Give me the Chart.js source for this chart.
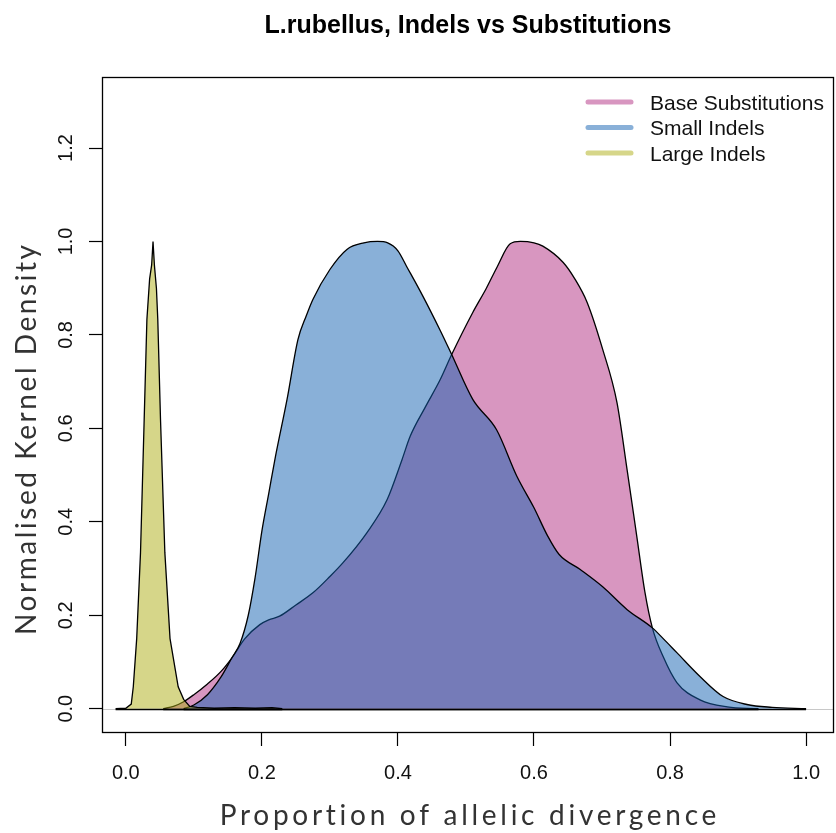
<!DOCTYPE html>
<html>
<head>
<meta charset="utf-8">
<script src="https://cdn.jsdelivr.net/npm/chart.js"></script>
<style>
  html, body { margin: 0; padding: 0; background: #fff; }
  canvas { display: block; }
</style>
</head>
<body>
<canvas id="chart" width="836" height="833"></canvas>
<script>
const title = 'L.rubellus, Indels vs Substitutions'
const xTitle = 'Proportion of allelic divergence'
const yTitle = 'Normalised Kernel Density'
const seriesNames = ['Base Substitutions', 'Small Indels', 'Large Indels']

const xTicks = [0, 0.2, 0.4, 0.6, 0.8, 1.0]
const xTickLabels = ['0.0', '0.2', '0.4', '0.6', '0.8', '1.0']
const yTicks = [0, 0.2, 0.4, 0.6, 0.8, 1.0, 1.2]
const yTickLabels = ['0.0', '0.2', '0.4', '0.6', '0.8', '1.0', '1.2']

// Base Substitutions (pink)
const subsX = [0.055, 0.07, 0.085, 0.10, 0.12, 0.14, 0.156, 0.175, 0.197, 0.21, 0.226, 0.25, 0.275, 0.30, 0.319, 0.354, 0.384, 0.406, 0.418, 0.44, 0.462, 0.479, 0.51, 0.53, 0.546, 0.565, 0.58, 0.60, 0.613, 0.643, 0.66, 0.678, 0.701, 0.722, 0.737, 0.751, 0.763, 0.774, 0.79, 0.81, 0.844, 0.884, 0.93]
const subsY = [0, 0.005, 0.015, 0.03, 0.053, 0.08, 0.109, 0.15, 0.18, 0.19, 0.198, 0.222, 0.248, 0.283, 0.312, 0.376, 0.447, 0.533, 0.583, 0.645, 0.704, 0.758, 0.848, 0.90, 0.946, 0.995, 1.0, 0.997, 0.99, 0.955, 0.92, 0.87, 0.769, 0.655, 0.51, 0.37, 0.25, 0.173, 0.111, 0.056, 0.019, 0.004, 0]

// Small Indels (blue)
const smallX = [0.085, 0.10, 0.12, 0.14, 0.156, 0.168, 0.18, 0.19, 0.20, 0.21, 0.22, 0.237, 0.253, 0.265, 0.275, 0.30, 0.325, 0.35, 0.37, 0.385, 0.40, 0.413, 0.437, 0.462, 0.479, 0.51, 0.545, 0.575, 0.60, 0.62, 0.637, 0.668, 0.701, 0.737, 0.774, 0.79, 0.81, 0.844, 0.878, 0.913, 0.95, 1.0]
const smallY = [0, 0.008, 0.03, 0.068, 0.109, 0.14, 0.2, 0.28, 0.38, 0.46, 0.54, 0.662, 0.79, 0.84, 0.876, 0.94, 0.983, 0.997, 1.0, 0.997, 0.98, 0.946, 0.882, 0.81, 0.758, 0.662, 0.597, 0.497, 0.43, 0.37, 0.33, 0.298, 0.261, 0.212, 0.173, 0.15, 0.12, 0.069, 0.026, 0.009, 0.003, 0]

// Large Indels (yellow)
const largeX = [-0.015, 0.0, 0.008, 0.011, 0.016, 0.0216, 0.027, 0.031, 0.035, 0.038, 0.04, 0.042, 0.045, 0.047, 0.051, 0.0574, 0.065, 0.077, 0.085, 0.094, 0.105, 0.13, 0.16, 0.19, 0.215, 0.23]
const largeY = [0, 0.001, 0.01, 0.047, 0.15, 0.334, 0.619, 0.833, 0.92, 0.95, 1.0, 0.95, 0.9, 0.833, 0.619, 0.334, 0.15, 0.047, 0.02, 0.005, 0.003, 0.001, 0.002, 0.001, 0.002, 0]

const fills = ['rgba(177,45,129,0.5)', 'rgba(19,97,177,0.5)', 'rgba(173,173,20,0.5)']

const toPoints = (xs, ys) => xs.map((x, i) => ({ x: x, y: ys[i] }))

// draw text spread out to a given width (the original axis titles are wide)
function spreadText (ctx, text, x, y, width) {
  ctx.letterSpacing = '0px'
  const w = ctx.measureText(text).width
  const gap = Math.max(0, (width - w) / (text.length - 1))
  ctx.letterSpacing = gap + 'px'
  ctx.textAlign = 'left'
  const w2 = ctx.measureText(text).width - gap
  ctx.fillText(text, x - w2 / 2, y)
  ctx.letterSpacing = '0px'
  ctx.textAlign = 'center'
}

const decor = {
  id: 'decor',
  beforeDatasetsDraw (chart) {
    const { ctx, chartArea: a, scales: { y } } = chart
    const py = Math.round(y.getPixelForValue(0)) + 0.5
    ctx.save()
    ctx.strokeStyle = '#c8c8c8'
    ctx.lineWidth = 1.2
    ctx.beginPath()
    ctx.moveTo(a.left, py)
    ctx.lineTo(a.right, py)
    ctx.stroke()
    ctx.restore()
  },
  afterDatasetsDraw (chart) {
    const { ctx, scales: { x, y } } = chart
    const py = Math.round(y.getPixelForValue(0)) + 0.5
    ctx.save()
    ctx.strokeStyle = '#000'
    ctx.lineWidth = 1.3
    chart.data.datasets.forEach(ds => {
      const pts = ds.data
      ctx.beginPath()
      ctx.moveTo(x.getPixelForValue(pts[0].x), py)
      ctx.lineTo(x.getPixelForValue(pts[pts.length - 1].x), py)
      ctx.stroke()
    })
    ctx.restore()
  },
  afterDraw (chart) {
    const { ctx, chartArea: a, scales: { x, y } } = chart
    ctx.save()
    // box
    ctx.strokeStyle = '#000'
    ctx.lineWidth = 1.3
    ctx.strokeRect(a.left + 0.5, a.top + 0.5, a.right - a.left - 1, a.bottom - a.top - 1)

    // title
    ctx.fillStyle = '#000'
    ctx.font = 'bold 25px "Liberation Sans", Arial, sans-serif'
    ctx.textAlign = 'center'
    ctx.textBaseline = 'alphabetic'
    ctx.fillText(title, (a.left + a.right) / 2, 33)

    // x tick labels
    ctx.font = '20px "Liberation Sans", Arial, sans-serif'
    ctx.fillStyle = '#111'
    xTicks.forEach((v, i) => {
      ctx.fillText(xTickLabels[i], x.getPixelForValue(v), 779)
    })
    // y tick labels (rotated)
    yTicks.forEach((v, i) => {
      ctx.save()
      ctx.translate(72, y.getPixelForValue(v))
      ctx.rotate(-Math.PI / 2)
      ctx.fillText(yTickLabels[i], 0, 0)
      ctx.restore()
    })

    // axis titles
    ctx.font = '28px Lato, "Open Sans", sans-serif'
    ctx.fillStyle = '#333'
    spreadText(ctx, xTitle, (a.left + a.right) / 2, 825, 497)
    ctx.save()
    ctx.translate(36, 440)
    ctx.rotate(-Math.PI / 2)
    spreadText(ctx, yTitle, 0, 0, 390)
    ctx.restore()

    // legend
    ctx.font = '21px "Liberation Sans", Arial, sans-serif'
    ctx.textAlign = 'left'
    ctx.lineCap = 'round'
    ctx.lineWidth = 5
    chart.data.datasets.forEach((ds, i) => {
      const ly = 102 + i * 25.5
      ctx.strokeStyle = ds.backgroundColor
      ctx.beginPath()
      ctx.moveTo(588, ly)
      ctx.lineTo(631, ly)
      ctx.stroke()
      ctx.fillStyle = '#111'
      ctx.fillText(ds.label, 650, ly + 7.5)
    })
    ctx.restore()
  }
}

const axisCommon = {
  type: 'linear',
  ticks: { display: false },
  grid: { drawOnChartArea: false, drawTicks: true, tickLength: 13, tickColor: '#000', tickWidth: 1.2 },
  border: { display: false }
}

new Chart(document.getElementById('chart'), {
  type: 'scatter',
  data: {
    datasets: [
      { label: seriesNames[0], data: toPoints(subsX, subsY), backgroundColor: fills[0], order: 3, cubicInterpolationMode: 'monotone' },
      { label: seriesNames[1], data: toPoints(smallX, smallY), backgroundColor: fills[1], order: 2, cubicInterpolationMode: 'monotone' },
      { label: seriesNames[2], data: toPoints(largeX, largeY), backgroundColor: fills[2], order: 1, tension: 0 }
    ].map(ds => Object.assign(ds, { showLine: true, fill: 'origin', borderColor: '#000', borderWidth: 1.3, pointRadius: 0 }))
  },
  options: {
    responsive: false,
    animation: false,
    devicePixelRatio: 1,
    layout: { padding: { left: 0, top: 77, right: 2, bottom: 0 } },
    plugins: { legend: { display: false }, tooltip: { enabled: false } },
    scales: {
      x: Object.assign({}, axisCommon, {
        min: -0.035,
        max: 1.041,
        afterBuildTicks: s => { s.ticks = xTicks.map(v => ({ value: v })) },
        afterFit: s => { s.height = 100 }
      }),
      y: Object.assign({}, axisCommon, {
        min: -0.052,
        max: 1.352,
        afterBuildTicks: s => { s.ticks = yTicks.map(v => ({ value: v })) },
        afterFit: s => { s.width = 102 }
      })
    }
  },
  plugins: [decor]
})
</script>
</body>
</html>
